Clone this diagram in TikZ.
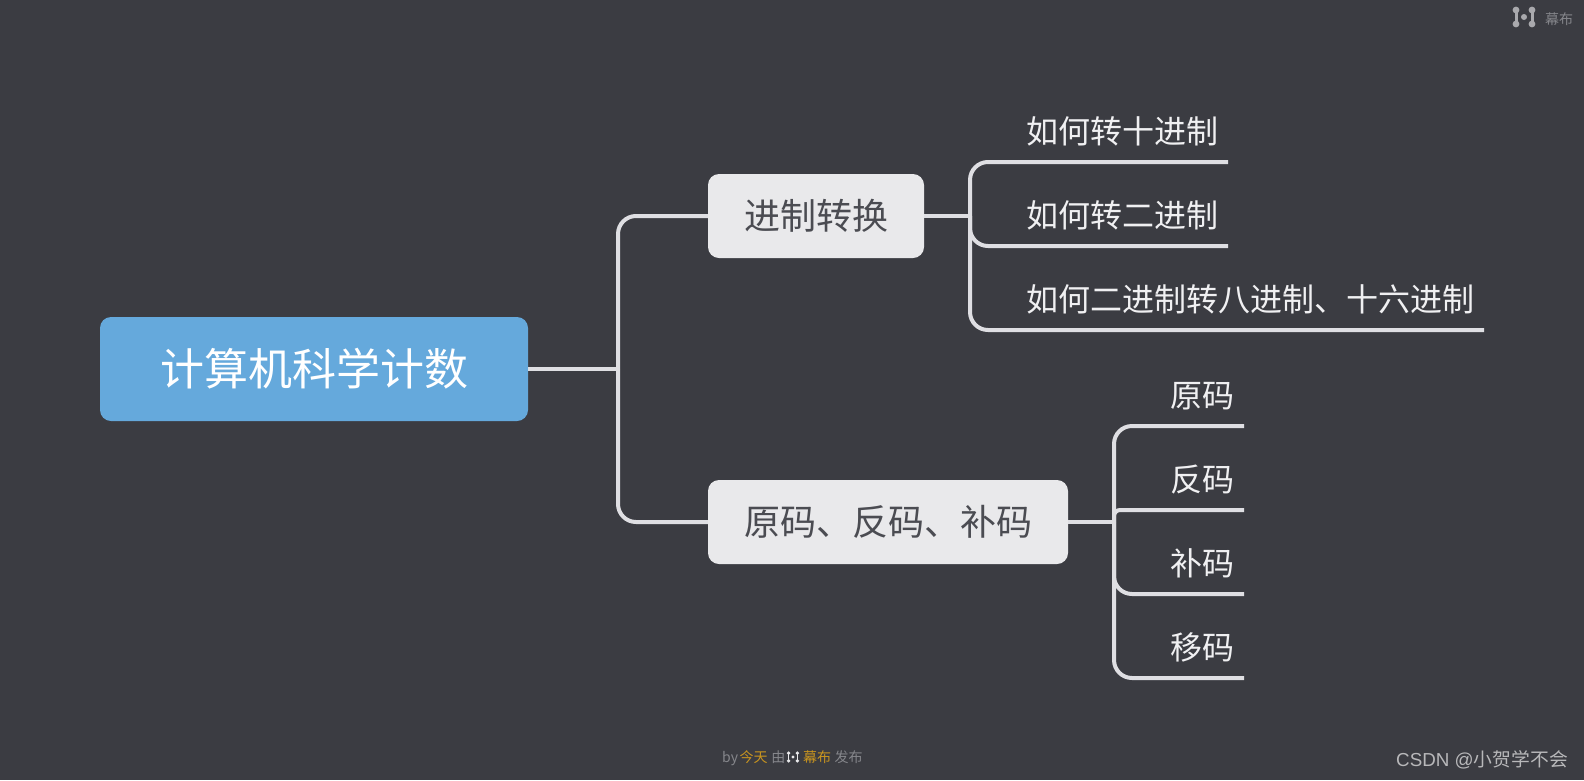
\documentclass[tikz,border=0pt]{standalone}
\usepackage{fontspec}
\setmainfont{Noto Sans CJK SC}
\newfontfamily\markfont{Liberation Sans}
\newfontfamily\markcjk{Noto Sans CJK SC}
\usetikzlibrary{positioning}
\definecolor{bgdark}{HTML}{3B3C42}
\definecolor{rootblue}{HTML}{65A9DC}
\definecolor{subgray}{HTML}{E9E9EB}
\definecolor{subtext}{HTML}{4B4C52}
\definecolor{linkgray}{HTML}{DFDFE3}
\definecolor{leaftext}{HTML}{F0F0F2}
\definecolor{footgray}{HTML}{85868B}
\definecolor{footamber}{HTML}{C9951F}
\definecolor{topgray}{HTML}{A9A9AD}
\definecolor{markgray}{HTML}{B8B8BA}

\begin{document}
\begin{tikzpicture}[
  x=1pt,y=-1pt,
  box/.style={rectangle,rounded corners=11pt,inner sep=0pt},
  rootbox/.style={box,fill=rootblue,text=white,minimum width=428pt,minimum height=104pt,text height=37pt,text depth=3.5pt,font=\fontsize{44}{44}\selectfont},
  subbox/.style={box,fill=subgray,text=subtext,minimum height=84pt,text height=29.8pt,text depth=3.3pt,font=\fontsize{36}{36}\selectfont},
  leaf/.style={rectangle,anchor=south east,inner ysep=0pt,inner xsep=9.5pt,minimum height=60pt,text=leaftext,text height=26.9pt,text depth=2.6pt,font=\fontsize{32}{32}\selectfont},
  link/.style={draw=linkgray,line width=4pt,rounded corners=18pt},
  stem/.style={draw=linkgray,line width=4pt},
  foot/.style={inner sep=0pt,anchor=west,text height=11.8pt,text depth=1.1pt,font=\fontsize{14}{14}\selectfont},
  logo/.pic={
    \draw[line width=#1] (-8,-7) -- (-8,7) (8,-7) -- (8,7);
    \fill (-8,-7) circle[radius=3.4] (-8,7) circle[radius=3.4] (8,-7) circle[radius=3.4] (8,7) circle[radius=3.4] (0,0) circle[radius=3];
  },
]
\fill[bgdark] (0,0) rectangle (1584,780);
\useasboundingbox (0,0) rectangle (1584,780);

% === ROOT ===
\node[rootbox] (root) at (314,369) {计算机科学计数};

% === SECOND LEVEL ===
\node[subbox,minimum width=216pt] (conv) at (816,216) {进制转换};
\node[subbox,minimum width=360pt] (codes) at (888,522) {原码、反码、补码};

% === LEAVES ===
\node[leaf] (dec) at (1228,162) {如何转十进制};
\node[leaf] (bin) at (1228,246) {如何转二进制};
\node[leaf] (octhex) at (1484,330) {如何二进制转八进制、十六进制};

\node[leaf] (orig) at (1244,426) {原码};
\node[leaf] (inv) at (1244,510) {反码};
\node[leaf] (comp) at (1244,594) {补码};
\node[leaf] (shift) at (1244,678) {移码};

% Bus points
\coordinate (rootbus) at (618,369);
\coordinate (convbus) at (970,216);
\coordinate (codesbus) at (1114,522);

% Root to second level
\draw[stem] (root.east) -- (rootbus);
\draw[link] (rootbus) |- (conv.west);
\draw[link] (rootbus) |- (codes.west);

% Second level to leaves
\draw[stem] (conv.east) -- (convbus);
\draw[link] (convbus) |- (dec.south east);
\draw[link] (convbus) |- (bin.south east);
\draw[link] (convbus) |- (octhex.south east);
\draw[stem] (codes.east) -- (codesbus);
\draw[link] (codesbus) |- (orig.south east);
\draw[link,rounded corners=6pt] (codesbus) |- (inv.south east);
\draw[link] (codesbus) |- (comp.south east);
\draw[link] (codesbus) |- (shift.south east);

% Top right mark
\path[draw=topgray,fill=topgray] (1524,17) pic {logo=3pt};
\node[foot,text=footgray] (topname) at (1545,19) {幕布};

% Footer
\node[foot,text=footgray] (footby) at (722,757) {by};
\node[foot,text=footamber,right=1pt of footby] (foottoday) {今天};
\node[foot,text=footgray,right=3.5pt of foottoday] (footyou) {由};
\path[draw=subgray,fill=subgray] (793,757) pic[scale=.55] {logo=1.5pt};
\node[foot,text=footamber] (footname) at (803,757) {幕布};
\node[foot,text=footgray,right=3pt of footname] (footpub) {发布};

% Watermark
\node[inner sep=0pt,anchor=east,text=markgray,font=\fontsize{18.8}{19}\selectfont] (mark) at (1568,760) {\markfont CSDN @\markcjk 小贺学不会};
\end{tikzpicture}
\end{document}
